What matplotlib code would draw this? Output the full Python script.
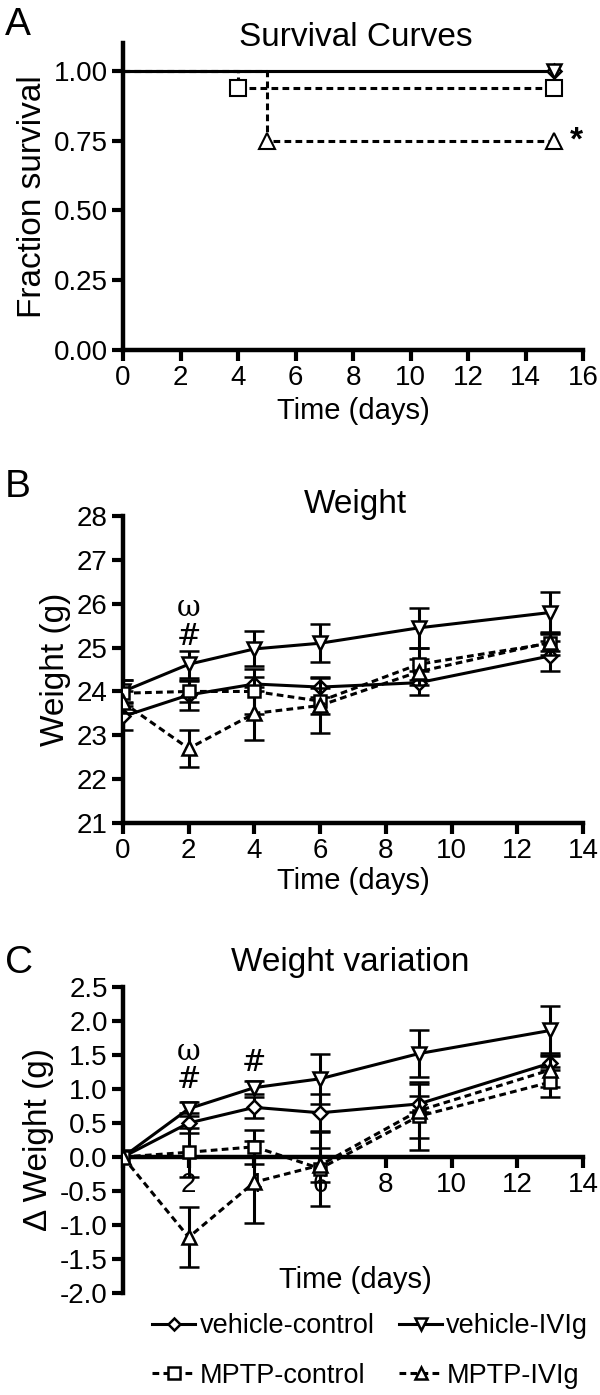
import numpy as np
import matplotlib
matplotlib.use("Agg")
from matplotlib import pyplot as plt
from matplotlib.lines import Line2D

plt.rcParams['font.family'] = ['Liberation Sans', 'DejaVu Sans']

# Panel A: survival (Kaplan-Meier steps)
surv_vc_t = [0, 15]
surv_vc = [1.0, 1.0]
surv_vi_t = [0, 15]
surv_vi = [1.0, 1.0]
surv_mc_t = [0, 4, 15]
surv_mc = [1.0, 0.9375, 0.9375]
surv_mi_t = [0, 5, 15]
surv_mi = [1.0, 0.75, 0.75]

# Panel B: weight (g), mean and SEM
days = [0, 2, 4, 6, 9, 13]
w_vc = [23.43, 23.92, 24.17, 24.10, 24.20, 24.81]
w_vc_err = [0.30, 0.34, 0.15, 0.22, 0.27, 0.34]
w_vi = [24.00, 24.62, 24.97, 25.10, 25.45, 25.80]
w_vi_err = [0.25, 0.31, 0.40, 0.43, 0.46, 0.47]
w_mc = [23.96, 24.00, 24.00, 23.78, 24.62, 25.10]
w_mc_err = [0.30, 0.24, 0.52, 0.30, 0.37, 0.26]
w_mi = [23.75, 22.70, 23.50, 23.68, 24.45, 25.12]
w_mi_err = [0.25, 0.42, 0.60, 0.62, 0.30, 0.20]

# Panel C: weight variation (g), mean and SEM
d_vc = [0.0, 0.50, 0.73, 0.65, 0.78, 1.38]
d_vc_err = [0.0, 0.15, 0.15, 0.28, 0.12, 0.10]
d_vi = [0.0, 0.71, 1.02, 1.15, 1.52, 1.86]
d_vi_err = [0.0, 0.10, 0.10, 0.37, 0.35, 0.36]
d_mc = [0.0, 0.07, 0.15, -0.17, 0.60, 1.10]
d_mc_err = [0.0, 0.36, 0.25, 0.55, 0.50, 0.22]
d_mi = [0.0, -1.18, -0.37, -0.12, 0.68, 1.28]
d_mi_err = [0.0, 0.44, 0.60, 0.25, 0.40, 0.25]

labels = ["vehicle-control", "vehicle-IVIg", "MPTP-control", "MPTP-IVIg"]
markers = ["D", "v", "s", "^"]
msizes = [7, 10, 9, 10]
dash = (0, (2.2, 1.4))
styles = ["-", "-", dash, dash]

fig = plt.figure(figsize=(6.0, 13.95), dpi=100)

tick_fs = 20
lab_fs = 21
ylab_fs = 24
title_fs = 24
H = 1395.0


def style_axes(ax):
    for s in ["top", "right"]:
        ax.spines[s].set_visible(False)
    for s in ["left", "bottom"]:
        ax.spines[s].set_linewidth(3.2)
    ax.tick_params(width=3, length=8, labelsize=tick_fs, direction="out", pad=3)


def series(ax, x, y, err, i):
    ax.errorbar(x, y, yerr=err, color="black", ls=styles[i], lw=2.2,
                marker=markers[i], ms=msizes[i], mfc="white", mec="black",
                mew=1.8, capsize=7, capthick=2.5, elinewidth=2.2, zorder=3 + i * 0.1)


# ---------------- A ----------------
axA = fig.add_axes([0.205, 0.7491, 0.7667, 0.2201])
style_axes(axA)
axA.step(surv_vc_t, surv_vc, where="post", color="black", lw=2.2)
axA.step(surv_vi_t, surv_vi, where="post", color="black", lw=2.2)
axA.step(surv_mc_t, surv_mc, where="post", color="black", lw=2.2, ls=dash)
axA.step(surv_mi_t, surv_mi, where="post", color="black", lw=2.2, ls=dash)
axA.plot(surv_vc_t[-1], surv_vc[-1], marker="D", ms=7, mfc="white", mec="black", mew=1.8)
axA.plot(surv_vi_t[-1], surv_vi[-1], marker="v", ms=10, mfc="white", mec="black", mew=1.8)
axA.plot(surv_mc_t[1:], surv_mc[1:], ls="none", marker="s", ms=11, mfc="white", mec="black", mew=1.5)
axA.plot(surv_mi_t[1:], surv_mi[1:], ls="none", marker="^", ms=11, mfc="white", mec="black", mew=1.5)
axA.text(15.55, 0.75, "*", fontsize=24, fontweight="bold", va="center", ha="left")
axA.set_xlim(0, 16)
axA.set_ylim(0, 1.1)
axA.set_xticks(np.arange(0, 17, 2))
axA.set_yticks([0, 0.25, 0.5, 0.75, 1.0])
axA.set_yticklabels(["0.00", "0.25", "0.50", "0.75", "1.00"])
axA.set_xlabel("Time (days)", fontsize=lab_fs, labelpad=4)
axA.set_ylabel("Fraction survival", fontsize=ylab_fs, labelpad=4)
fig.text(0.593, 1 - 37 / H, "Survival Curves", fontsize=title_fs, ha="center", va="center")
fig.text(0.008, 1 - 25 / H, "A", fontsize=28, va="center", ha="left")

# ---------------- B ----------------
axB = fig.add_axes([0.205, 0.41, 0.7667, 0.2201])
style_axes(axB)
for i, (y, e) in enumerate([(w_vc, w_vc_err), (w_vi, w_vi_err), (w_mc, w_mc_err), (w_mi, w_mi_err)]):
    series(axB, days, y, e, i)
axB.text(2, 25.25, "#", fontsize=21, family="DejaVu Serif", ha="center", va="center")
axB.text(2, 25.9, "ω", fontsize=21, family="DejaVu Serif", ha="center", va="center")
axB.set_xlim(0, 14)
axB.set_ylim(21, 28)
axB.set_xticks(np.arange(0, 15, 2))
axB.set_yticks(np.arange(21, 29, 1))
axB.set_xlabel("Time (days)", fontsize=lab_fs, labelpad=2)
axB.set_ylabel("Weight (g)", fontsize=ylab_fs, labelpad=4)
fig.text(0.593, 1 - 505 / H, "Weight", fontsize=title_fs, ha="center", va="center")
fig.text(0.008, 1 - 487 / H, "B", fontsize=28, va="center", ha="left")

# ---------------- C ----------------
axC = fig.add_axes([0.205, 0.0731, 0.7667, 0.2194])
style_axes(axC)
axC.set_axisbelow(True)
axC.spines["bottom"].set_position(("data", 0))
axC.spines["bottom"].set_zorder(2.6)
for i, (y, e) in enumerate([(d_vc, d_vc_err), (d_vi, d_vi_err), (d_mc, d_mc_err), (d_mi, d_mi_err)]):
    series(axC, days, y, e, i)
axC.text(2, 1.13, "#", fontsize=21, family="DejaVu Serif", ha="center", va="center")
axC.text(2, 1.55, "ω", fontsize=21, family="DejaVu Serif", ha="center", va="center")
axC.text(4, 1.38, "#", fontsize=21, family="DejaVu Serif", ha="center", va="center")
axC.set_xlim(0, 14)
axC.set_ylim(-2.0, 2.5)
axC.set_xticks(np.arange(0, 15, 2))
axC.set_xticklabels(["", "2", "4", "6", "8", "10", "12", "14"])
axC.set_yticks(np.arange(-2.0, 2.51, 0.5))
axC.set_yticklabels(["%.1f" % v for v in np.arange(-2.0, 2.51, 0.5)])
axC.set_ylabel("Δ Weight (g)", fontsize=ylab_fs, labelpad=4)
fig.text(0.583, 1 - 963 / H, "Weight variation", fontsize=title_fs, ha="center", va="center")
fig.text(0.593, 1 - 1280 / H, "Time (days)", fontsize=lab_fs, ha="center", va="center")
fig.text(0.008, 1 - 963 / H, "C", fontsize=28, va="center", ha="left")

handles = [Line2D([], [], color="black", ls=styles[i], lw=2.2, marker=markers[i],
                  ms=msizes[i] - 1, mfc="white", mec="black", mew=1.8) for i in range(4)]
order = [0, 2, 1, 3]
fig.legend([handles[k] for k in order], [labels[k] for k in order], loc="center",
           bbox_to_anchor=(0.617, 1 - 1351 / H), ncol=2, frameon=False, fontsize=19.5,
           handlelength=1.6, handletextpad=0.15, columnspacing=0.9, labelspacing=0.85,
           borderpad=0)

fig.savefig("out.png", dpi=100)
